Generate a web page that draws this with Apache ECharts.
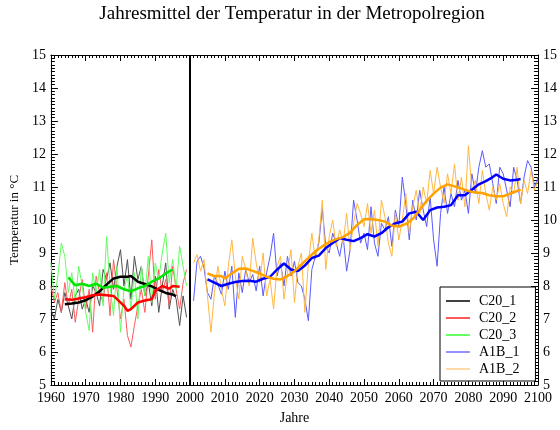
<!DOCTYPE html>
<html>
<head>
<meta charset="utf-8">
<script src="https://cdn.jsdelivr.net/npm/echarts@6/dist/echarts.min.js"></script>
<style>
  html, body { margin: 0; background: #fff; }
  #chart { width: 560px; height: 430px; }
</style>
</head>
<body>
<div id="chart"></div>
<script>
// annual means, C20 runs start 1960, A1B runs start 2001
const c20Start = 1960;
const a1bStart = 2001;

const c20_1 = [7.3, 7.0, 7.6, 7.2, 7.8, 7.4, 7.0, 7.7, 7.9, 7.3,
  7.6, 7.2, 8.0, 7.8, 7.4, 8.5, 8.2, 8.7, 7.9, 8.6,
  9.1, 8.0, 8.8, 7.6, 8.9, 8.2, 8.6, 7.7, 8.1, 7.4,
  8.3, 7.2, 8.0, 8.7, 7.3, 7.9, 7.6, 6.8, 7.7, 7.05];
const c20_2 = [8.0, 7.5, 7.8, 7.2, 8.1, 7.4, 7.9, 6.9, 7.6, 8.2,
  7.3, 7.9, 6.6, 8.3, 7.8, 7.5, 8.4, 7.1, 8.8, 7.9,
  7.0, 7.6, 6.5, 6.15, 6.8, 7.4, 7.9, 7.2, 8.3, 9.4,
  7.6, 8.5, 7.8, 8.2, 7.4, 8.6, 7.9, 7.3, 8.1, 8.5];
const c20_3 = [8.7, 7.6, 8.3, 9.3, 8.9, 7.8, 8.4, 7.5, 8.6, 8.0,
  7.2, 6.65, 8.4, 7.8, 8.5, 7.4, 9.5, 8.0, 7.1, 8.6,
  6.6, 7.9, 8.3, 7.3, 8.4, 7.0, 8.6, 7.7, 8.9, 7.5,
  8.7, 8.2, 9.0, 9.6, 8.1, 8.8, 7.9, 9.2, 8.6, 8.0];

const a1b_1 = [7.55, 8.75, 8.9, 8.55, 7.8, 7.6, 8.3, 8.05, 7.75, 8.45,
  7.9, 8.6, 7.05, 8.4, 7.8, 8.5, 8.1, 8.35, 7.85, 8.6,
  7.7, 8.4, 8.9, 9.6, 8.3, 8.7, 8.0, 8.9, 8.3, 8.75,
  8.1, 8.0, 7.6, 6.95, 8.5, 8.9, 9.3, 10.35, 9.2, 9.0,
  9.6, 9.3, 8.9, 9.5, 8.45, 9.1, 10.6, 10.0, 9.3, 9.6,
  9.1, 10.4, 9.3, 8.9, 9.9, 9.7, 10.1, 9.2, 10.3, 9.8,
  11.3, 10.5, 9.4, 10.6, 10.0, 10.9, 10.3, 9.8, 10.7, 9.4,
  8.6, 10.2, 11.0, 10.2, 10.8, 10.4, 11.2, 10.6, 10.9, 10.2,
  11.4, 10.8, 11.6, 12.1, 11.6, 11.7, 11.1, 10.5, 11.6, 11.4,
  10.9, 10.4, 11.6, 11.2, 10.5, 11.3, 11.8, 11.6, 11.0, 11.3];
const a1b_2 = [8.7, 8.95, 8.45, 8.8, 7.7, 6.6, 7.8, 8.6, 7.9, 7.4,
  8.6, 9.4, 8.3, 7.6, 8.9, 8.5, 8.0, 9.45, 8.7, 8.1,
  9.0, 7.7, 8.2, 7.3, 8.6, 8.9, 7.6, 8.4, 9.1, 7.5,
  8.6, 9.0, 7.2, 8.7, 9.6, 8.8, 9.4, 10.6, 8.5, 9.5,
  10.0, 9.2, 9.7, 9.3, 10.2, 9.1, 9.9, 10.5, 10.2, 9.8,
  10.5, 9.6, 10.3, 9.2, 10.6, 10.1, 9.3, 8.9, 10.2, 9.4,
  10.0, 10.8, 9.6, 10.4, 10.9, 10.2, 11.0, 10.5, 11.5, 10.8,
  11.6, 11.0, 10.5, 11.4, 10.8, 11.7, 10.6, 11.3, 10.4, 12.25,
  10.9, 11.2, 10.5, 11.5, 10.8, 10.3, 11.0, 10.6, 11.1, 10.5,
  10.1, 11.0, 10.8, 11.6, 10.5, 11.2, 10.8, 11.5, 10.9, 11.2];

// running means [year, value]
const c20_1Mean = [[1964, 7.45], [1966, 7.47], [1968, 7.5], [1970, 7.57], [1972, 7.68],
  [1974, 7.84], [1976, 8.04], [1978, 8.23], [1980, 8.28], [1982, 8.28], [1983, 8.3],
  [1984, 8.22], [1985, 8.13], [1987, 8.06], [1989, 7.99], [1991, 7.88], [1993, 7.79],
  [1995, 7.74], [1996, 7.69]];
const c20_2Mean = [[1964, 7.6], [1966, 7.58], [1968, 7.62], [1970, 7.66], [1972, 7.72],
  [1974, 7.74], [1976, 7.72], [1978, 7.7], [1979, 7.6], [1981, 7.4], [1982, 7.25],
  [1983, 7.3], [1985, 7.5], [1987, 7.56], [1989, 7.6], [1990, 7.85], [1992, 8.0],
  [1994, 7.92], [1995, 8.0], [1997, 7.98]];
const c20_3Mean = [[1965, 8.26], [1967, 8.02], [1969, 8.07], [1971, 8.0], [1973, 8.07],
  [1975, 7.95], [1977, 7.98], [1979, 8.0], [1981, 7.9], [1983, 7.84], [1985, 7.93],
  [1987, 8.0], [1989, 8.13], [1991, 8.23], [1993, 8.38], [1995, 8.5]];
const a1b_1Mean = [[2005, 8.2], [2007, 8.1], [2009, 8.0], [2011, 8.07], [2013, 8.12],
  [2015, 8.15], [2017, 8.16], [2019, 8.13], [2021, 8.22], [2023, 8.28], [2025, 8.5],
  [2027, 8.68], [2029, 8.5], [2031, 8.45], [2033, 8.62], [2035, 8.85], [2037, 8.92],
  [2039, 9.15], [2041, 9.3], [2043, 9.45], [2045, 9.4], [2047, 9.36], [2049, 9.45],
  [2051, 9.57], [2053, 9.5], [2055, 9.6], [2057, 9.78], [2059, 9.9], [2061, 9.95],
  [2063, 10.2], [2065, 10.25], [2067, 10.0], [2069, 10.3], [2071, 10.38], [2073, 10.4],
  [2075, 10.45], [2077, 10.75], [2079, 10.75], [2081, 10.92], [2083, 11.08], [2085, 11.18],
  [2087, 11.3], [2088, 11.38], [2090, 11.25], [2092, 11.2], [2094, 11.22], [2095, 11.24]];
const a1b_2Mean = [[2005, 8.38], [2007, 8.3], [2009, 8.3], [2010, 8.23], [2012, 8.38],
  [2014, 8.52], [2016, 8.53], [2018, 8.46], [2020, 8.38], [2022, 8.28], [2024, 8.22],
  [2026, 8.2], [2028, 8.3], [2030, 8.45], [2032, 8.65], [2034, 8.85], [2036, 9.05],
  [2038, 9.2], [2040, 9.33], [2042, 9.42], [2044, 9.48], [2046, 9.62], [2048, 9.85],
  [2050, 10.02], [2052, 10.03], [2054, 10.0], [2056, 9.95], [2058, 9.83], [2060, 9.8],
  [2062, 9.88], [2064, 10.03], [2066, 10.3], [2068, 10.58], [2070, 10.8], [2072, 10.98],
  [2074, 11.08], [2076, 11.02], [2078, 10.95], [2080, 10.88], [2082, 10.83], [2084, 10.82],
  [2086, 10.75], [2088, 10.72], [2090, 10.72], [2092, 10.8], [2094, 10.88], [2095, 10.92]];

const runNames = ["C20_1", "C20_2", "C20_3", "A1B_1", "A1B_2"];
const thinColors = ["#505050", "#ff5a5a", "#60ff60", "#5a5aff", "#ffb840"];
const thickColors = ["#000000", "#ff0000", "#00e600", "#0000ff", "#ffa200"];
const legendColors = ["#000000", "#ff2020", "#33ff33", "#7070ff", "#ffcc88"];

const serif = "Liberation Serif";

function toPairs(start, values) {
  return values.map((v, i) => [start + i, v]);
}

const annual = [
  toPairs(c20Start, c20_1),
  toPairs(c20Start, c20_2),
  toPairs(c20Start, c20_3),
  toPairs(a1bStart, a1b_1),
  toPairs(a1bStart, a1b_2),
];
const means = [c20_1Mean, c20_2Mean, c20_3Mean, a1b_1Mean, a1b_2Mean];

const series = [];
annual.forEach((data, i) => {
  series.push({
    name: runNames[i],
    type: "line",
    data: data,
    showSymbol: false,
    color: thinColors[i],
    lineStyle: { width: 1, color: thinColors[i] },
    z: 2,
  });
});
means.forEach((data, i) => {
  series.push({
    name: runNames[i] + " Mittel",
    type: "line",
    data: data,
    showSymbol: false,
    lineStyle: { width: 2.5, color: thickColors[i] },
    z: 3,
  });
});
// line marking the year 2000
series[0].markLine = {
  silent: true,
  symbol: ["none", "none"],
  label: { show: false },
  lineStyle: { color: "#000", width: 2, type: "solid" },
  data: [{ xAxis: 2000 }],
};

function xAxisFor(position, withLabels) {
  return {
    type: "value",
    position: position,
    min: 1960,
    max: 2100,
    interval: 10,
    axisLine: { show: true, lineStyle: { color: "#000", width: 1 } },
    axisTick: { show: true, inside: true, length: 6, lineStyle: { color: "#000" } },
    minorTick: { show: true, splitNumber: 10, length: 3, lineStyle: { color: "#000" } },
    axisLabel: {
      show: withLabels, color: "#000", fontFamily: serif, fontSize: 14, margin: 6,
      formatter: (v) => String(v),
    },
    splitLine: { show: false },
    name: withLabels ? "Jahre" : "",
    nameLocation: "middle",
    nameGap: 26,
    nameTextStyle: { color: "#000", fontFamily: serif, fontSize: 14 },
  };
}

function yAxisFor(position, withName) {
  return {
    type: "value",
    position: position,
    min: 5,
    max: 15,
    interval: 1,
    axisLine: { show: true, lineStyle: { color: "#000", width: 1 } },
    axisTick: { show: true, inside: true, length: 7, lineStyle: { color: "#000" } },
    minorTick: { show: true, splitNumber: 10, length: 4, lineStyle: { color: "#000" } },
    axisLabel: { color: "#000", fontFamily: serif, fontSize: 14, margin: 5 },
    splitLine: { show: false },
    name: withName ? "Temperatur in °C" : "",
    nameLocation: "middle",
    nameGap: 28,
    nameTextStyle: { color: "#000", fontFamily: serif, fontSize: 13 },
  };
}

const chart = echarts.init(document.getElementById("chart"));
chart.setOption({
  animation: false,
  backgroundColor: "#fff",
  title: {
    text: "Jahresmittel der Temperatur in der Metropolregion",
    left: 292,
    top: 5,
    padding: 0,
    textAlign: "center",
    textStyle: { color: "#000", fontFamily: serif, fontSize: 19, fontWeight: "normal" },
  },
  grid: { left: 50, right: 20, top: 55, bottom: 41 },
  xAxis: [xAxisFor("bottom", true), xAxisFor("top", false)],
  yAxis: [yAxisFor("left", true), yAxisFor("right", false)],
  legend: {
    orient: "vertical",
    left: 440,
    top: 287,
    padding: [7, 16, 5, 6],
    backgroundColor: "#fff",
    borderColor: "#000",
    borderWidth: 1,
    borderRadius: 0,
    icon: "rect",
    itemWidth: 24,
    itemHeight: 1.5,
    itemGap: 3,
    selectedMode: false,
    textStyle: { color: "#000", fontFamily: serif, fontSize: 14, lineHeight: 14, padding: [0, 0, 0, 4] },
    data: runNames.map((n, i) => ({ name: n, itemStyle: { color: legendColors[i] } })),
  },
  series: series,
});
</script>
</body>
</html>
